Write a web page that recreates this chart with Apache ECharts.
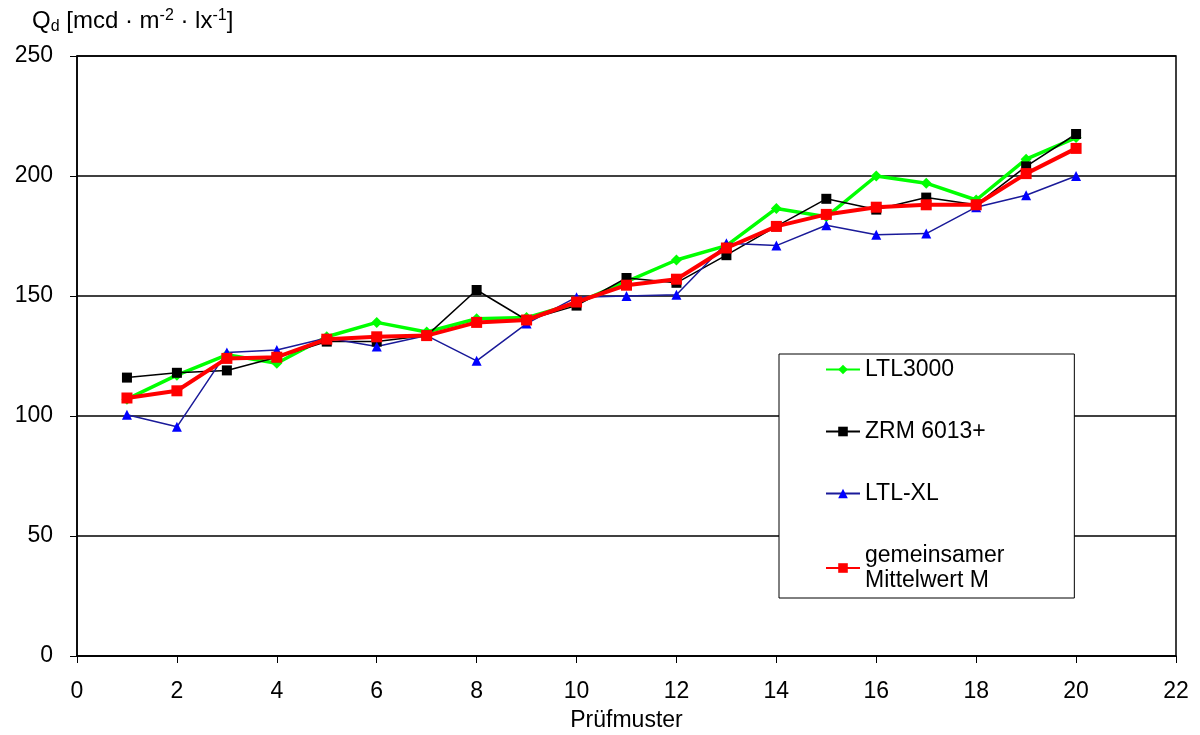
<!DOCTYPE html>
<html><head><meta charset="utf-8">
<script src="https://cdn.jsdelivr.net/npm/echarts@6/dist/echarts.min.js"></script>
<style>html,body{margin:0;padding:0;background:#fff}#c{width:1200px;height:735px}</style>
</head><body><div id="c"></div>
<script>
var samples = [1,2,3,4,5,6,7,8,9,10,11,12,13,14,15,16,17,18,19,20];
var ltl3000 = [107,117,125.5,122,133,139,135,140.5,141,147,156,165,171,186.5,183,200,197,190,207,216];
var zrm = [116,118,119,124.5,131,131,133.5,152.5,140,146,157.5,155.5,167,179,190.5,186,191,188,204,217.5];
var ltlxl = [100.5,95.5,126.5,127.5,132.5,129,133.5,123,138.5,149.5,150,150.5,172,171,179.5,175.5,176,187,192,200];
var mean = [107.5,110.5,124,124.5,132,133,133.5,139,140,147.5,154.5,157,170,179,184,187,188,188,201,211.5];
var names = ['LTL3000','ZRM 6013+','LTL-XL','gemeinsamer\nMittelwert M'];

function pts(v){ return samples.map(function(s,i){ return [s, v[i]]; }); }
var font = 'Liberation Sans, Arial, sans-serif';
var chart = echarts.init(document.getElementById('c'));
chart.setOption({
  animation:false,
  backgroundColor:'#fff',
  title:{
    text:'Q{sub|d} [mcd · m{sup|-2} · lx{sup|-1}]',
    left:27, top:3,
    textStyle:{fontFamily:font,fontSize:24,fontWeight:'normal',color:'#000',
      rich:{
        sub:{fontFamily:font,fontSize:16,color:'#000',padding:[11,0,0,0]},
        sup:{fontFamily:font,fontSize:16,color:'#000',padding:[0,0,11,0]}
      }}
  },
  grid:{left:77,right:24,top:56,bottom:79,outerBoundsMode:'none',containLabel:false,
    show:true,borderColor:'#000',borderWidth:1.5,backgroundColor:'transparent'},
  legend:{
    orient:'vertical', left:779, top:354,
    padding:[3,70,5,46], itemGap:37, itemWidth:34, itemHeight:12,
    backgroundColor:'#fff', borderColor:'#000', borderWidth:1,
    textStyle:{fontFamily:font,fontSize:23,color:'#000',lineHeight:25},
    data:names
  },
  xAxis:{
    type:'value', min:0, max:22, interval:2,
    name:'Prüfmuster', nameLocation:'middle', nameGap:53,
    nameTextStyle:{fontFamily:font,fontSize:23,color:'#000'},
    axisLine:{show:true,onZero:false,lineStyle:{color:'#000',width:1.5}},
    axisTick:{show:true,length:7,lineStyle:{color:'#000',width:1}},
    axisLabel:{fontFamily:font,fontSize:23,color:'#000',margin:24},
    splitLine:{show:false}
  },
  yAxis:{
    type:'value', min:0, max:250, interval:50,
    axisLine:{show:true,lineStyle:{color:'#000',width:1.5}},
    axisTick:{show:true,length:7,lineStyle:{color:'#000',width:1}},
    axisLabel:{fontFamily:font,fontSize:23,color:'#000',margin:24},
    splitLine:{show:true,lineStyle:{color:'#000',width:1.5}}
  },
  series:[
    {name:names[0],type:'line',data:pts(ltl3000),symbol:'diamond',symbolSize:11,
      lineStyle:{color:'#00ff00',width:3.5},itemStyle:{color:'#00ff00'}},
    {name:names[1],type:'line',data:pts(zrm),symbol:'rect',symbolSize:10,
      lineStyle:{color:'#000',width:1.5},itemStyle:{color:'#000'}},
    {name:names[2],type:'line',data:pts(ltlxl),symbol:'triangle',symbolSize:10,
      lineStyle:{color:'#1a1a99',width:1.5},itemStyle:{color:'#0000ff'}},
    {name:names[3],type:'line',data:pts(mean),symbol:'rect',symbolSize:11,
      lineStyle:{color:'#ff0000',width:4},itemStyle:{color:'#ff0000'}}
  ]
});
</script></body></html>
